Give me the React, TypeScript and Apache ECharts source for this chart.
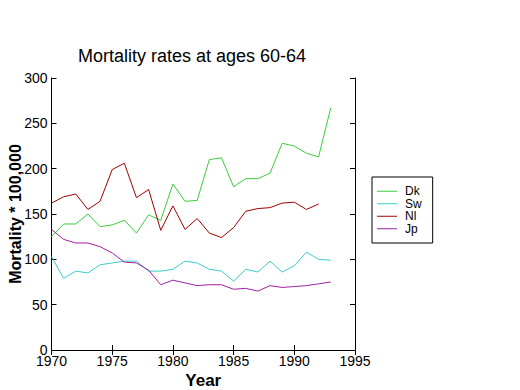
import React, { useEffect, useRef } from "react";
import * as echarts from "echarts";

const years = [1970, 1971, 1972, 1973, 1974, 1975, 1976, 1977, 1978, 1979, 1980, 1981, 1982, 1983, 1984, 1985, 1986, 1987, 1988, 1989, 1990, 1991, 1992, 1993];
const dk = [125, 139, 139, 150, 136, 138, 143, 129, 149, 143, 183, 164, 165, 210, 212, 180, 189, 189, 195, 228, 225, 217, 213, 267];
const sw = [103, 79, 87, 85, 94, 96, 98, 98, 87, 87, 89, 98, 96, 89, 87, 76, 89, 86, 98, 86, 93, 108, 100, 99];
const nl = [162, 169, 172, 155, 164, 199, 206, 168, 177, 132, 159, 133, 145, 129, 124, 135, 153, 156, 157, 162, 163, 155, 161];
const jp = [133, 122, 118, 118, 114, 107, 97, 96, 88, 72, 77, 74, 71, 72, 72, 67, 68, 65, 71, 69, 70, 71, 73, 75];
const seriesNames = ["Dk", "Sw", "Nl", "Jp"];
const seriesColors = ["#3ccc3c", "#3ccccc", "#a00000", "#a020a0"];
const xTicks = { min: 1970, max: 1995, interval: 5 };
const yTicks = { min: 0, max: 300, interval: 50 };

const mainFont = "'Liberation Sans', Arial, sans-serif";

export default function App() {
  const ref = useRef<HTMLDivElement>(null);
  useEffect(() => {
    if (!ref.current) return;
    const chart = echarts.init(ref.current, null, { renderer: "svg" });
    const all = [dk, sw, nl, jp];
    const axisCommon = {
      axisLine: { show: true, lineStyle: { color: "#000", width: 1 } },
      axisTick: { show: true, inside: true, length: 5, lineStyle: { color: "#000" } },
      splitLine: { show: false },
    };
    const tickLabel = { fontFamily: mainFont, fontSize: 14, color: "#000", margin: 4, formatter: (v: number) => String(v) };
    chart.setOption({
      animation: false,
      backgroundColor: "#fff",
      title: {
        text: "Mortality rates at ages 60-64",
        left: 73,
        top: 42,
        textStyle: { fontFamily: mainFont, fontSize: 18, fontWeight: "normal", color: "#000" },
      },
      grid: { left: 51.5, right: 165, top: 78, bottom: 40, outerBoundsMode: "none", containLabel: false },
      legend: {
        orient: "vertical",
        left: 372,
        top: 177,
        data: seriesNames,
        icon: "rect",
        itemWidth: 20,
        itemHeight: 1,
        itemGap: 0,
        borderColor: "#000",
        borderWidth: 1,
        borderRadius: 0,
        padding: [8, 11, 8, 5],
        textStyle: { fontFamily: mainFont, fontSize: 12, lineHeight: 12.5, color: "#000", padding: [0, 0, 0, 3] },
      },
      xAxis: [
        {
          type: "value",
          min: xTicks.min,
          max: xTicks.max,
          interval: xTicks.interval,
          position: "bottom",
          name: "Year",
          nameLocation: "middle",
          nameGap: 22,
          nameMoveOverlap: false,
          nameTextStyle: { fontFamily: mainFont, fontSize: 17, fontWeight: "bold", color: "#000" },
          axisLabel: tickLabel,
          ...axisCommon,
        },
        {
          type: "value",
          min: xTicks.min,
          max: xTicks.max,
          interval: xTicks.interval,
          position: "top",
          axisLabel: { show: false },
          ...axisCommon,
        },
      ],
      yAxis: [
        {
          type: "value",
          min: yTicks.min,
          max: yTicks.max,
          interval: yTicks.interval,
          position: "left",
          name: "Mortality * 100,000",
          nameLocation: "middle",
          nameGap: 28,
          nameMoveOverlap: false,
          nameTextStyle: { fontFamily: mainFont, fontSize: 16, fontWeight: "bold", color: "#000" },
          axisLabel: tickLabel,
          ...axisCommon,
        },
        {
          type: "value",
          min: yTicks.min,
          max: yTicks.max,
          interval: yTicks.interval,
          position: "right",
          axisLabel: { show: false },
          ...axisCommon,
        },
      ],
      series: seriesNames.map((name, i) => ({
        name,
        type: "line",
        symbol: "none",
        color: seriesColors[i],
        lineStyle: { width: 1, color: seriesColors[i] },
        data: all[i].map((v, j) => [years[j], v]),
      })),
    });
    return () => chart.dispose();
  }, []);
  return <div ref={ref} style={{ width: 520, height: 390, position: "absolute", left: 0, top: 0 }} />;
}
